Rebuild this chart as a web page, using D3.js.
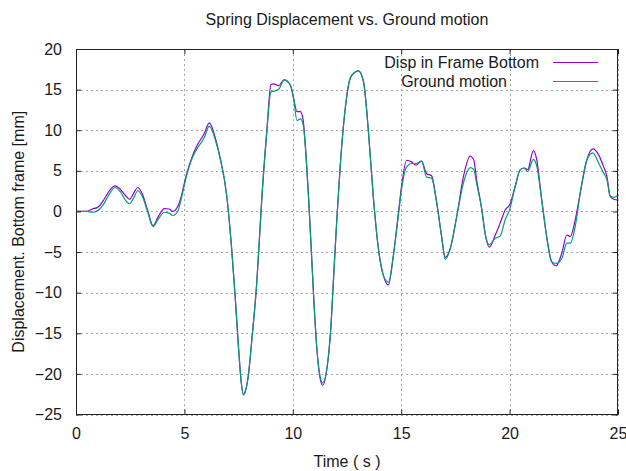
<!DOCTYPE html>
<html>
<head>
<meta charset="utf-8">
<script src="https://cdn.jsdelivr.net/npm/d3@7"></script>
<style>
  html, body { margin: 0; padding: 0; background: #fff; }
  svg { display: block; font-family: "Liberation Sans", Arial, sans-serif; }
</style>
</head>
<body>
<svg id="chart" width="626" height="471"></svg>
<script>
// Time samples (s)
const time = [0, 0.5, 0.75, 1.0, 1.3, 1.55, 1.8, 2.05, 2.3, 2.47, 2.65, 2.85, 3.05, 3.3, 3.55, 3.8, 4.08, 4.3, 4.46, 4.69, 4.85,
  5.08, 5.38, 5.6, 5.9, 6.15, 6.45, 6.65, 6.95, 7.18, 7.34, 7.5, 7.62, 7.72, 7.82, 7.95, 8.1, 8.34, 8.57, 8.8, 8.99, 9.11, 9.34,
  9.6, 9.88, 10.04, 10.19, 10.35, 10.47, 10.62, 10.73, 10.85, 10.96, 11.11, 11.25, 11.38, 11.57, 11.75, 11.87, 12.03, 12.18,
  12.42, 12.65, 12.85, 13.03, 13.26, 13.49, 13.72, 13.95, 14.18, 14.41, 14.64, 14.87, 15.02, 15.25, 15.48, 15.68, 15.94, 16.17,
  16.4, 16.63, 16.86, 17.03, 17.26, 17.57, 17.88, 18.18, 18.34, 18.49, 18.72, 18.87, 19.06, 19.34, 19.57, 19.8, 20.0, 20.26,
  20.49, 20.68, 20.83, 21.1, 21.25, 21.48, 21.71, 21.94, 22.15, 22.41, 22.64, 22.8, 23.03, 23.26, 23.57, 23.84, 24.1, 24.33,
  24.49, 24.64, 24.8, 25.0];

// Displacement of the frame bottom (mm)
const dispFrameBottom = [0, 0, 0.3, 0.5, 1.5, 2.6, 3.15, 2.7, 1.9, 1.5, 2.2, 2.95, 2.2, 0.2, -1.75, -0.6, 0.35, 0.3, 0.0, 0.6, 1.8,
  4.4, 6.9, 8.2, 9.5, 10.9, 8.8, 6.6, 2.0, -4.6, -10.4, -16.9, -21.0, -22.6, -22.1, -20.2, -16.1, -8.7, 1.6, 9.8, 15.6, 15.7, 15.5,
  16.2, 15.6, 13.9, 12.3, 12.3, 11.4, 6.5, 1.6, -4.6, -10.4, -16.9, -20.4, -21.4, -19.4, -14.5, -8.7, -1.0, 5.3,
  12.7, 16.4, 17.1, 17.3, 16.0, 9.8, 1.6, -4.6, -7.9, -9.05, -5.4, -0.2, 3.2, 6.3, 6.1, 5.7, 6.2, 4.65,
  4.4, 1.2, -3.0, -5.65, -4.6, -0.5, 4.4, 6.8, 6.4, 3.7, 0.2, -2.7, -4.4, -2.9, -1.4, 0.2, 0.8, 3.1,
  5.15, 5.35, 5.15, 7.5, 6.4, 1.45, -3.1, -6.2, -6.7, -5.1, -2.9, -3.1, -1.0, 2.3, 6.4, 7.7, 7.0, 5.55,
  4.3, 1.85, 1.5, 1.4];

// Ground motion (mm)
const groundMotion = [0, 0, -0.1, 0.1, 1.0, 2.2, 2.95, 2.4, 1.3, 0.95, 1.6, 2.55, 1.9, 0.0, -1.85, -0.9, -0.1, -0.2, -0.5, 0.0, 1.5,
  4.2, 6.7, 7.8, 9.0, 10.5, 8.6, 6.5, 2.0, -4.6, -10.4, -16.9, -21.0, -22.5, -22.0, -20.2, -16.1, -8.7, 1.6, 9.8, 14.7, 14.8, 15.0,
  16.2, 15.6, 13.9, 11.2, 11.4, 10.8, 6.5, 1.6, -4.6, -10.4, -16.9, -20.2, -21.1, -19.4, -14.5, -8.7, -1.0, 5.3,
  12.7, 16.4, 17.1, 17.3, 16.0, 9.8, 1.6, -4.6, -7.9, -8.7, -5.4, -0.5, 2.8, 5.5, 5.9, 5.9, 6.2, 4.25,
  4.1, 1.2, -3.0, -5.9, -4.6, -0.5, 3.6, 5.4, 5.2, 3.3, 0.2, -2.7, -4.1, -3.3, -3.0, -1.0, 0.2, 3.1,
  5.15, 5.35, 4.9, 6.4, 5.6, 1.45, -3.1, -6.2, -6.4, -5.8, -3.9, -3.9, -1.8, 2.3, 6.4, 7.2, 6.0, 4.75,
  3.9, 1.85, 1.75, 1.95];

const xTicks = [0, 5, 10, 15, 20, 25];
const yTicks = [20, 15, 10, 5, 0, -5, -10, -15, -20, -25];
const seriesNames = ["Disp in Frame Bottom", "Ground motion"];
const seriesColors = ["#9400d3", "#009e73"];
const titleText = "Spring Displacement vs. Ground motion";
const xLabel = "Time ( s )";
const yLabel = "Displacement. Bottom frame [mm]";

const svg = d3.select("#chart");
const m = { left: 76, right: 618, top: 49, bottom: 414.5 };
const x = d3.scaleLinear().domain([0, 25]).range([m.left, m.right]);
const y = d3.scaleLinear().domain([-25, 20]).range([m.bottom, m.top]);
const textColor = "#1a1a1a";

// grid
const grid = svg.append("g").attr("stroke", "#a8a8a8").attr("stroke-width", 1)
  .attr("stroke-dasharray", "2,3").attr("shape-rendering", "crispEdges");
grid.selectAll("line.gx").data(xTicks).join("line")
  .attr("x1", d => Math.round(x(d)) + 0.5).attr("x2", d => Math.round(x(d)) + 0.5)
  .attr("y1", m.top).attr("y2", m.bottom);
grid.selectAll("line.gy").data(yTicks).join("line")
  .attr("y1", d => Math.round(y(d)) + 0.5).attr("y2", d => Math.round(y(d)) + 0.5)
  .attr("x1", m.left).attr("x2", m.right);

// series
const pts = arr => time.map((t, i) => [t, arr[i]]);
const line = d3.line().x(d => x(d[0])).y(d => y(d[1])).curve(d3.curveMonotoneX);
[dispFrameBottom, groundMotion].forEach((s, i) => {
  svg.append("path").datum(pts(s))
    .attr("fill", "none").attr("stroke", seriesColors[i]).attr("stroke-width", 1.2)
    .attr("d", line);
});

// axes with inward ticks on all four sides
const tk = 5;
const styleAxis = g => {
  g.select(".domain").remove();
  g.selectAll(".tick line").attr("stroke", "#222");
  g.selectAll(".tick text").attr("fill", textColor).attr("font-size", 16)
    .attr("font-family", "Liberation Sans, Arial, sans-serif");
};
svg.append("g").attr("transform", `translate(0,${m.bottom})`)
  .call(d3.axisBottom(x).tickValues(xTicks).tickSize(-tk).tickPadding(13).tickFormat(d3.format("d")))
  .call(styleAxis);
svg.append("g").attr("transform", `translate(0,${m.top})`)
  .call(d3.axisTop(x).tickValues(xTicks).tickSize(-tk).tickFormat(""))
  .call(styleAxis);
svg.append("g").attr("transform", `translate(${m.left},0)`)
  .call(d3.axisLeft(y).tickValues(yTicks).tickSize(-tk).tickPadding(14).tickFormat(d3.format("d")))
  .call(styleAxis);
svg.append("g").attr("transform", `translate(${m.right},0)`)
  .call(d3.axisRight(y).tickValues(yTicks).tickSize(-tk).tickFormat(""))
  .call(styleAxis);

// border
svg.append("rect").attr("x", m.left + 0.5).attr("y", m.top + 0.5)
  .attr("width", m.right - m.left - 1).attr("height", m.bottom - m.top - 1)
  .attr("fill", "none").attr("stroke", "#222").attr("stroke-width", 1)
  .attr("shape-rendering", "crispEdges");

// title and axis labels
svg.append("text").attr("x", (m.left + m.right) / 2).attr("y", 25)
  .attr("text-anchor", "middle").attr("font-size", 16).attr("fill", textColor).text(titleText);
svg.append("text").attr("x", (m.left + m.right) / 2).attr("y", 467)
  .attr("text-anchor", "middle").attr("font-size", 16).attr("fill", textColor).text(xLabel);
svg.append("text").attr("transform", `translate(24,${(m.top + m.bottom) / 2}) rotate(-90)`)
  .attr("text-anchor", "middle").attr("font-size", 16).attr("fill", textColor).text(yLabel);

// legend
const legendRows = [{ textEnd: 539, cy: 62.5 }, { textEnd: 507, cy: 81.5 }];
seriesNames.forEach((name, i) => {
  const r = legendRows[i];
  svg.append("text").attr("x", r.textEnd).attr("y", r.cy + 5.5)
    .attr("text-anchor", "end").attr("font-size", 16).attr("fill", textColor).text(name);
  svg.append("line").attr("x1", 553).attr("x2", 598).attr("y1", r.cy).attr("y2", r.cy)
    .attr("stroke", seriesColors[i]).attr("stroke-width", 1.2);
});
</script>
</body>
</html>
